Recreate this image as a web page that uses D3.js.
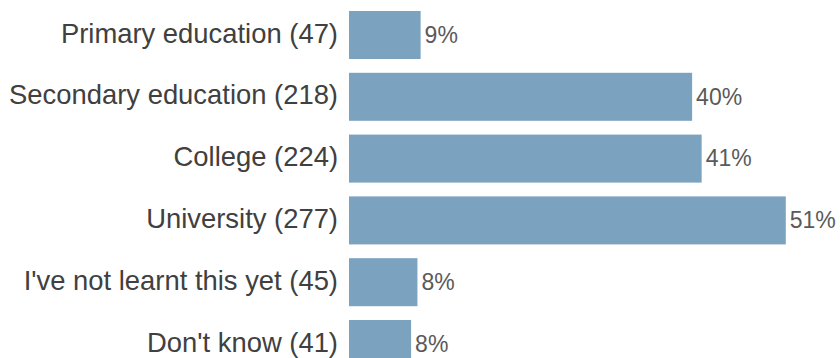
<!DOCTYPE html>
<html>
<head>
<meta charset="utf-8">
<script src="https://cdn.jsdelivr.net/npm/d3@7"></script>
<style>
  html, body { margin: 0; padding: 0; background: #fff; }
  svg { display: block; overflow: hidden; }
</style>
</head>
<body>
<svg id="chart" width="840" height="358"></svg>
<script>
// Where respondents learnt about the topic (multiple answers allowed)
const categories = [
  "Primary education",
  "Secondary education",
  "College",
  "University",
  "I've not learnt this yet",
  "Don't know"
];
const counts = [47, 218, 224, 277, 45, 41];
const respondents = 543;

const data = categories.map((c, i) => ({ category: c, count: counts[i] }));

const width = 840, height = 358;
const svg = d3.select("#chart");

const left = 346, barInset = 3;
const x = d3.scaleLinear()
  .domain([0, d3.max(counts)])
  .range([left, left + 1.5877 * d3.max(counts)]);

const step = 61.8;
const y = d3.scaleBand()
  .domain(categories)
  .range([4.1, 4.1 + step * categories.length])
  .paddingInner(0.223)
  .paddingOuter(0.1115);

const fontFamily = "'Liberation Sans', Arial, Helvetica, sans-serif";

// bars
svg.append("g")
  .selectAll("rect")
  .data(data)
  .join("rect")
  .attr("x", x(0) + barInset)
  .attr("y", d => y(d.category))
  .attr("width", d => x(d.count) - x(0) - barInset)
  .attr("height", y.bandwidth())
  .attr("fill", "#7ba3bf");

// category labels with counts
svg.append("g")
  .selectAll("text")
  .data(data)
  .join("text")
  .attr("x", x(0) - 8)
  .attr("y", d => y(d.category) + y.bandwidth() / 2)
  .attr("dy", "0.28em")
  .attr("text-anchor", "end")
  .attr("font-family", fontFamily)
  .attr("font-size", 27.4)
  .attr("fill", "#404040")
  .text(d => `${d.category} (${d.count})`);

// percentage labels
const pct = d3.format(".0%");
svg.append("g")
  .selectAll("text")
  .data(data)
  .join("text")
  .attr("x", d => x(d.count) + 4)
  .attr("y", d => y(d.category) + y.bandwidth() / 2)
  .attr("dy", "0.34em")
  .attr("font-family", fontFamily)
  .attr("font-size", 23)
  .attr("fill", "#5a5a5a")
  .text(d => pct(d.count / respondents));
</script>
</body>
</html>
